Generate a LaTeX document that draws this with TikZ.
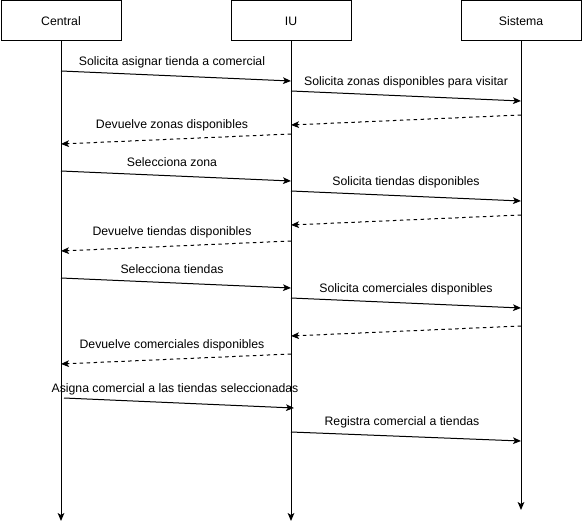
\documentclass[tikz,border=0pt]{standalone}
\usepackage{fontspec}
\setmainfont{Liberation Sans}
\usetikzlibrary{arrows.meta}
\begin{document}
\begin{tikzpicture}[x=0.75pt,y=-0.75pt,
  actor/.style={draw,line width=0.75pt,minimum width=90pt,minimum height=30pt,inner sep=0pt,font=\fontsize{9.2}{11}\selectfont},
  life/.style={line width=0.75pt,-{Stealth[length=6pt,width=5pt,inset=1.5pt]}},
  msg/.style={line width=0.75pt,-{Stealth[length=6pt,width=5pt,inset=1.5pt]}},
  ret/.style={msg,dash pattern=on 2.6pt off 2.6pt},
  lbl/.style={font=\fontsize{9.2}{11}\selectfont,inner sep=0pt,yshift=10.5pt,midway},
  lblL/.style={lbl,xshift=-3pt}]
\useasboundingbox (0,0) rectangle (584,531);
\node[actor] (c) at (61,21) {Central};
\node[actor] (u) at (291,21) {IU};
\node[actor] (s) at (521,21) {Sistema};
\coordinate (ce) at (61,521);
\coordinate (ue) at (291,521);
\coordinate (se) at (521,510);
\draw[life] (c.south) -- (ce);
\draw[life] (u.south) -- (ue);
\draw[life] (s.south) -- (se);
% message coordinates
\coordinate (c1) at (61,71);   \coordinate (u1) at (291,81);
\coordinate (u2) at (291,91);  \coordinate (s2) at (521,101);
\coordinate (s3) at (521,115); \coordinate (u3) at (291,125);
\coordinate (u4) at (291,134); \coordinate (c4) at (61,144);
\coordinate (c5) at (61,171);  \coordinate (u5) at (291,181);
\coordinate (u6) at (291,191); \coordinate (s6) at (521,201);
\coordinate (s7) at (521,215); \coordinate (u7) at (291,225);
\coordinate (u8) at (291,241); \coordinate (c8) at (61,251);
\coordinate (c9) at (61,278);  \coordinate (u9) at (291,288);
\coordinate (u10) at (291,298); \coordinate (s10) at (521,308);
\coordinate (s11) at (521,326); \coordinate (u11) at (291,336);
\coordinate (u12) at (291,354); \coordinate (c12) at (61,364);
\coordinate (c13) at (64,398); \coordinate (u13) at (294,408);
\coordinate (u14) at (291,432); \coordinate (s14) at (521,441);
\draw[msg] (c1) -- node[lblL] {Solicita asignar tienda a comercial} (u1);
\draw[msg] (u2) -- node[lbl] {Solicita zonas disponibles para visitar} (s2);
\draw[ret] (s3) -- (u3);
\draw[ret] (u4) -- node[lblL] {Devuelve zonas disponibles} (c4);
\draw[msg] (c5) -- node[lblL] {Selecciona zona} (u5);
\draw[msg] (u6) -- node[lbl] {Solicita tiendas disponibles} (s6);
\draw[ret] (s7) -- (u7);
\draw[ret] (u8) -- node[lblL] {Devuelve tiendas disponibles} (c8);
\draw[msg] (c9) -- node[lblL] {Selecciona tiendas} (u9);
\draw[msg] (u10) -- node[lbl] {Solicita comerciales disponibles} (s10);
\draw[ret] (s11) -- (u11);
\draw[ret] (u12) -- node[lblL] {Devuelve comerciales disponibles} (c12);
\draw[msg] (c13) -- node[lblL] {Asigna comercial a las tiendas seleccionadas} (u13);
\draw[msg] (u14) -- node[lblL] {Registra comercial a tiendas} (s14);
\end{tikzpicture}
\end{document}
